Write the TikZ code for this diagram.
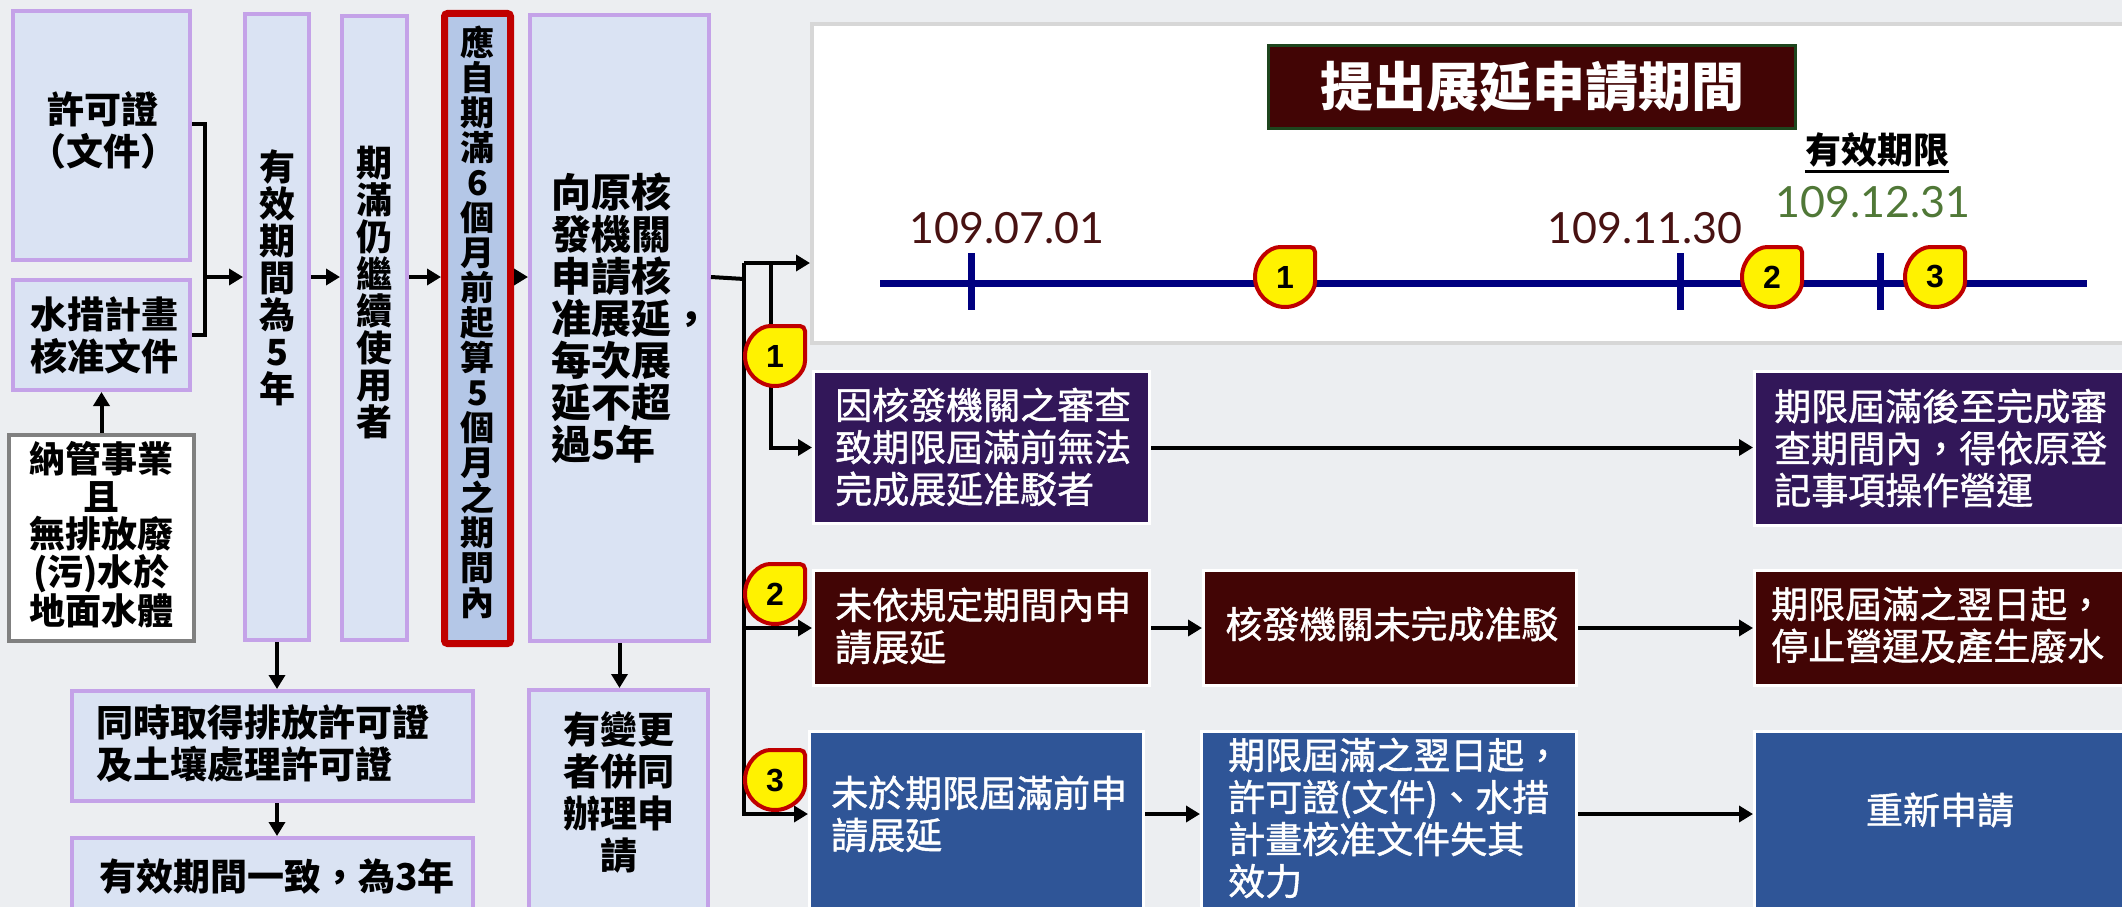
\documentclass[tikz,border=0pt]{standalone}
\usepackage{fontspec}
\setmainfont{Noto Sans CJK TC}
\newfontfamily\medfont{Noto Sans CJK TC}[FakeBold=1.2]
\newfontfamily\latfont{Lato}
\newfontfamily\numfont{Liberation Sans}
\usetikzlibrary{arrows.meta}
\definecolor{bgc}{RGB}{236,238,241}
\definecolor{lfill}{RGB}{218,227,243}
\definecolor{lav}{RGB}{196,162,232}
\definecolor{efill}{RGB}{180,199,231}
\definecolor{redc}{RGB}{192,0,0}
\definecolor{purp}{RGB}{50,23,89}
\definecolor{maro}{RGB}{66,5,5}
\definecolor{bluc}{RGB}{47,85,151}
\definecolor{dgreen}{RGB}{30,70,30}
\definecolor{navyc}{RGB}{0,0,128}
\definecolor{datec}{RGB}{72,18,18}
\definecolor{datg}{RGB}{80,120,55}
\definecolor{panelb}{RGB}{215,215,215}
\definecolor{grayb}{RGB}{128,128,128}
\tikzset{
  lbox/.style={draw=lav, fill=lfill, line width=4pt, inner sep=0pt},
  ebox/.style={draw=redc, fill=efill, line width=7pt, rounded corners=3pt, inner sep=0pt},
  gbox/.style={draw=grayb, fill=white, line width=4pt, inner sep=0pt},
  pbox/.style={draw=white, fill=purp, line width=3pt, inner sep=0pt},
  mbox/.style={draw=white, fill=maro, line width=3pt, inner sep=0pt},
  ubox/.style={draw=white, fill=bluc, line width=3pt, inner sep=0pt},
  btxt/.style={text=black, inner sep=0pt, font=\bfseries\fontsize{37}{42}\selectfont},
  vtxt/.style={text=black, inner sep=0pt, align=center, font=\bfseries\fontsize{36}{37}\selectfont},
  wtxt/.style={text=white, inner sep=0pt, font=\medfont\fontsize{37}{42}\selectfont},
  datelbl/.style={inner sep=0pt, font=\latfont\fontsize{43}{43}\selectfont},
  conn/.style={line width=4pt},
  arr/.style={line width=4pt, -{Triangle[length=14pt,width=16pt]}},
  dropshape/.style={draw=redc, fill=yellow, line width=4pt, rounded corners=5pt},
  dropnum/.style={inner sep=0pt, font=\numfont\bfseries\fontsize{32}{32}\selectfont},
  tline/.style={draw=navyc, line width=7pt}
}
\newcommand{\mkdrop}[4]{%
  \draw[dropshape] (#2,#3) ++(30pt,0pt) -- ++(0pt,30pt) -- ++(-30pt,0pt)
     arc[start angle=90,end angle=360,radius=30pt] -- cycle;
  \node[dropnum] (#1) at (#2,#3) {#4};
}
\begin{document}
\begin{tikzpicture}[x=1pt,y=-1pt]
\useasboundingbox (0,0) rectangle (2122,907);
\fill[bgc] (0,0) rectangle (2122,907);

% ---- timeline panel ----
\node[draw=panelb, fill=white, line width=4pt, minimum width=1326pt, minimum height=319pt, inner sep=0pt] (panel) at (1475,183.5) {};
\node[draw=dgreen, fill=maro, line width=2.5pt, minimum width=527pt, minimum height=83pt, inner sep=0pt,
      text=white, font=\bfseries\fontsize{53}{53}\selectfont] (title) at (1532,87) {提出展延申請期間};
\node[inner sep=0pt, font=\bfseries\fontsize{36}{36}\selectfont] (yx) at (1877,150) {有效期限};
\draw[line width=3pt] ([yshift=-4pt]yx.south west) -- ([yshift=-4pt]yx.south east);
\node[datelbl, text=datg] (d3) at (1873,202) {109.12.31};
\node[datelbl, text=datec] (d2) at (1645,228) {109.11.30};
\node[datelbl, text=datec] (d1) at (1007,228) {109.07.01};
\coordinate (tl0) at (880,283);
\coordinate (tl1) at (2087,283);
\draw[tline] (tl0) -- (tl1);
\draw[tline] (971,253) -- (971,310);
\draw[tline] (1680,253) -- (1680,310);
\draw[tline] (1880,253) -- (1880,310);
\mkdrop{t1}{1285}{277}{1}
\mkdrop{t2}{1772}{277}{2}
\mkdrop{t3}{1935}{277}{3}

% ---- left light boxes ----
\node[lbox, minimum width=177pt, minimum height=249pt] (A) at (101.5,135.5) {};
\node[btxt, align=center] (At) at (103,130) {許可證\\（文件）};
\node[lbox, minimum width=177pt, minimum height=110pt] (B) at (101.5,335) {};
\node[btxt, align=center] (Bt) at (104,335) {水措計畫\\核准文件};
\node[gbox, minimum width=185pt, minimum height=206pt] (G) at (101.5,538) {};
\node[btxt, align=center, font=\bfseries\fontsize{36}{37.5}\selectfont] (Gt) at (101.5,535) {納管事業\\且\\無排放廢\\(污)水於\\地面水體};

\node[lbox, minimum width=64pt, minimum height=626pt] (C) at (277,327) {};
\node[vtxt] (Ct) at (277,278) {有\\效\\期\\間\\為\\5\\年};
\node[lbox, minimum width=65pt, minimum height=624pt] (D) at (374.5,328) {};
\node[vtxt] (Dt) at (374.5,293) {期\\滿\\仍\\繼\\續\\使\\用\\者};
\node[ebox, minimum width=66pt, minimum height=630pt] (E) at (477.5,328.5) {};
\node[vtxt, font=\bfseries\fontsize{34}{35}\selectfont] (Et) at (477.5,322) {應\\自\\期\\滿\\6\\個\\月\\前\\起\\算\\5\\個\\月\\之\\期\\間\\內};
\node[lbox, minimum width=179pt, minimum height=626pt] (F) at (619.5,328) {};
\node[btxt, align=left, anchor=west, font=\bfseries\fontsize{40}{42}\selectfont] (Ft) at (551,318) {向原核\\發機關\\申請核\\准展延，\\每次展\\延不超\\過5年};

\node[lbox, minimum width=401pt, minimum height=110pt] (H) at (272.5,746) {};
\node[btxt, align=left, anchor=west] (Ht) at (96,744) {同時取得排放許可證\\及土壤處理許可證};
\node[lbox, minimum width=401pt, minimum height=78pt] (I) at (272.5,877) {};
\node[btxt] (It) at (277,877) {有效期間一致，為3年};
\node[lbox, minimum width=179pt, minimum height=226pt] (J) at (618.5,803) {};
\node[btxt, align=center] (Jt) at (619,792) {有變更\\者併同\\辦理申\\請};

% ---- right dark boxes ----
\node[pbox, minimum width=336pt, minimum height=152pt] (K) at (981.5,447.5) {};
\node[wtxt, align=left, anchor=west] (Kt) at (835,447) {因核發機關之審查\\致期限屆滿前無法\\完成展延准駁者};
\node[pbox, minimum width=374pt, minimum height=154pt] (L) at (1941.5,448.5) {};
\node[wtxt, align=left, anchor=west] (Lt) at (1774,448) {期限屆滿後至完成審\\查期間內，得依原登\\記事項操作營運};

\node[mbox, minimum width=336pt, minimum height=115pt] (M) at (981.5,628) {};
\node[wtxt, align=left, anchor=west] (Mt) at (835,626) {未依規定期間內申\\請展延};
\node[mbox, minimum width=373pt, minimum height=115pt] (N) at (1390,628) {};
\node[wtxt] (Nt) at (1392,624) {核發機關未完成准駁};
\node[mbox, minimum width=374pt, minimum height=115pt] (O) at (1941.5,628) {};
\node[wtxt, align=left, anchor=west] (Ot) at (1771,625) {期限屆滿之翌日起，\\停止營運及產生廢水};

\node[ubox, minimum width=334pt, minimum height=180pt] (P) at (976.5,821) {};
\node[wtxt, align=left, anchor=west] (Pt) at (831,814) {未於期限屆滿前申\\請展延};
\node[ubox, minimum width=375pt, minimum height=180pt] (Q) at (1389,821) {};
\node[wtxt, align=left, anchor=west] (Qt) at (1228,818) {期限屆滿之翌日起，\\許可證(文件)、水措\\計畫核准文件失其\\效力};
\node[ubox, minimum width=374pt, minimum height=180pt] (R) at (1941.5,821) {};
\node[wtxt] (Rt) at (1940,810) {重新申請};

% ---- connectors left ----
\coordinate (brk) at (205,277);
\draw[conn] ([yshift=12pt]A.east) -| (brk) |- (B.east);
\draw[arr] (brk) -- (brk -| C.west);
\draw[arr] (brk -| C.east) -- (brk -| D.west);
\draw[arr] (brk -| D.east) -- (brk -| E.west);
\draw[arr] (brk -| E.east) -- (brk -| F.west);
\draw[arr] (G.north) -- (B.south);
\draw[arr] (C.south) -- (C.south |- H.north);
\draw[arr] (C.south |- H.south) -- (C.south |- I.north);
\draw[arr] (F.south) -- (F.south |- J.north);

% ---- connectors right ----
\coordinate (j) at (744,279);
\coordinate (jt) at (744,263);
\coordinate (jt2) at (771,263);
\draw[conn] (brk -| F.east) -- (j);
\draw[arr] (jt) -- (jt -| panel.west);
\draw[arr] (jt) |- (P.west |- Pt.west);
\draw[arr] (jt2) |- (K.west);
\draw[arr] (jt |- M.west) -- (M.west);
\draw[arr] (K.east) -- (K.east -| L.west);
\draw[arr] (M.east) -- (N.west);
\draw[arr] (N.east) -- (N.east -| O.west);
\draw[arr] (P.east |- Pt.west) -- (Q.west |- Pt.west);
\draw[arr] (Q.east |- Pt.west) -- (R.west |- Pt.west);

% ---- markers ----
\mkdrop{m1}{775}{356}{1}
\mkdrop{m2}{775}{594}{2}
\mkdrop{m3}{775}{780}{3}
\end{tikzpicture}
\end{document}
